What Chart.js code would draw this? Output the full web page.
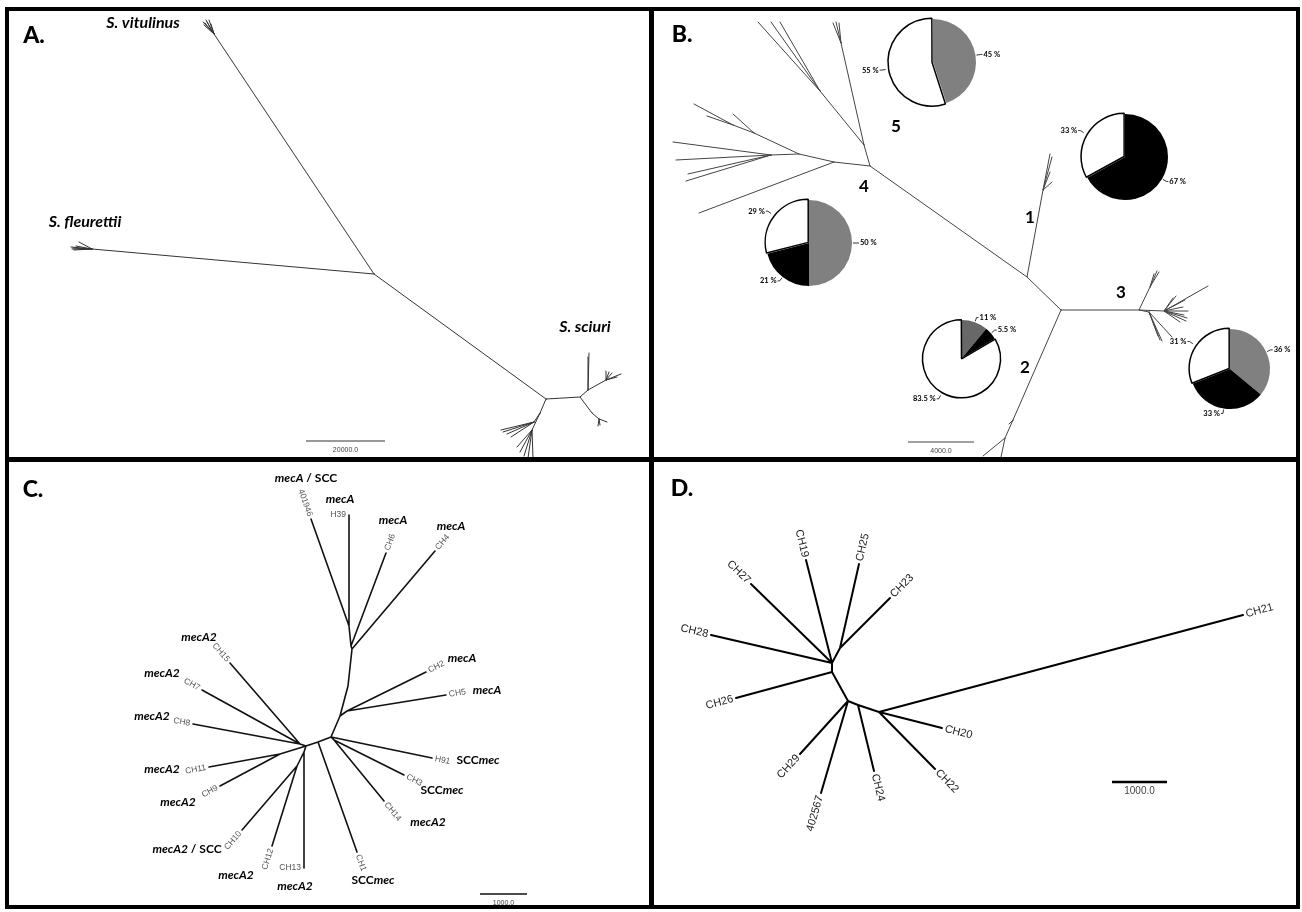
<!DOCTYPE html>
<html lang="en">
<head>
<meta charset="UTF-8">
<title>Unrooted trees</title>
<script src="https://cdn.jsdelivr.net/npm/chart.js"></script>
<style>
  html, body { margin: 0; padding: 0; background: #fff; }
  #figure { position: relative; width: 1302px; height: 912px; overflow: hidden; background: #fff; }
  #figure canvas { position: absolute; }
  .rule { position: absolute; background: #000; z-index: 5; }
</style>
</head>
<body>
<div id="figure">
  <canvas id="panelA"></canvas>
  <canvas id="panelB"></canvas>
  <canvas id="panelC"></canvas>
  <canvas id="panelD"></canvas>
  <canvas id="pie5"></canvas>
  <canvas id="pie1"></canvas>
  <canvas id="pie4"></canvas>
  <canvas id="pie2"></canvas>
  <canvas id="pie3"></canvas>
  <div class="rule" style="left:5px;top:7px;width:1295px;height:4px"></div>
  <div class="rule" style="left:5px;top:905px;width:1295px;height:4px"></div>
  <div class="rule" style="left:5px;top:7px;width:4px;height:902px"></div>
  <div class="rule" style="left:1296px;top:7px;width:4px;height:902px"></div>
  <div class="rule" style="left:649px;top:7px;width:5px;height:902px"></div>
  <div class="rule" style="left:5px;top:457px;width:1295px;height:5px"></div>
</div>
<script>
// tree nodes: [id, x, y, parent, tip label]

// A. species tree
const treeA = [
  ['r', 374, 274, null],
  ['v', 214, 34, 'r'],
  ['v1', 203, 22, 'v'], ['v2', 206, 20, 'v'], ['v3', 209, 20, 'v'], ['v4', 204, 25, 'v'], ['v5', 211, 24, 'v'],
  ['v6', 205, 23, 'v'], ['v7', 207, 22, 'v'],
  ['f', 92, 249, 'r'],
  ['f1', 71, 247, 'f'], ['f2', 72, 249, 'f'], ['f3', 74, 250, 'f'], ['f4', 76, 246, 'f'], ['f5', 79, 242, 'f'],
  ['f6', 73, 248, 'f'],
  ['s', 546, 399, 'r'],
  ['s2', 580, 397, 's'],
  ['s3', 588, 390, 's2'],
  ['s3a', 589, 353, 's3'], ['s3b', 588, 357, 's3'],
  ['s4', 606, 380, 's3'],
  ['s4a', 606, 371, 's4'], ['s4b', 609, 372, 's4'], ['s4c', 612, 373, 's4'], ['s4d', 621, 374, 's4'], ['s4e', 617, 377, 's4'],
  ['s5', 592, 413, 's2'],
  ['s6', 599, 419, 's5'],
  ['s6a', 607, 422, 's6'], ['s6b', 598, 426, 's6'], ['s6c', 600, 425, 's6'],
  ['s7', 540, 413, 's'],
  ['s8', 534, 422, 's7'],
  ['s8a', 501, 430, 's8'], ['s8b', 503, 432, 's8'], ['s8c', 507, 434, 's8'], ['s8d', 511, 437, 's8'],
  ['s9', 532, 430, 's7'],
  ['s9a', 517, 447, 's9'], ['s9b', 520, 452, 's9'], ['s9c', 524, 456, 's9'], ['s9d', 528, 458, 's9'], ['s9e', 533, 458, 's9']
];
const speciesA = ['S. vitulinus', 'S. fleurettii', 'S. sciuri'];

// B. S. sciuri clades
const treeB = [
  ['c', 1061, 310, null],
  ['k3', 1139, 310, 'c'],
  ['k3u', 1150, 287, 'k3'],
  ['k3u1', 1157, 271, 'k3u'], ['k3u2', 1159, 272, 'k3u'], ['k3u3', 1154, 274, 'k3u'],
  ['k3f', 1164, 311, 'k3'],
  ['k3f1', 1208, 286, 'k3f'], ['k3f2', 1185, 300, 'k3f'], ['k3f3', 1183, 307, 'k3f'], ['k3f4', 1184, 315, 'k3f'],
  ['k3f5', 1186, 321, 'k3f'], ['k3f6', 1180, 322, 'k3f'], ['k3f7', 1176, 296, 'k3f'], ['k3f8', 1173, 298, 'k3f'],
  ['k3f9', 1188, 311, 'k3f'], ['k3f10', 1187, 318, 'k3f'],
  ['k3d', 1149, 312, 'k3'],
  ['k3d1', 1162, 341, 'k3d'], ['k3d2', 1160, 340, 'k3d'], ['k3d3', 1172, 337, 'k3d'], ['k3d4', 1158, 336, 'k3d'],
  ['k1', 1027, 277, 'c'],
  ['k1a', 1043, 190, 'k1'],
  ['k1a1', 1050, 154, 'k1a'], ['k1a2', 1052, 157, 'k1a'], ['k1a3', 1050, 172, 'k1a'], ['k1a4', 1052, 182, 'k1a'],
  ['k45', 870, 166, 'k1'],
  ['k5', 864, 145, 'k45'],
  ['k5a', 841, 43, 'k5'],
  ['k5a1', 833, 23, 'k5a'], ['k5a2', 836, 22, 'k5a'], ['k5a3', 839, 23, 'k5a'],
  ['k5b', 820, 91, 'k5'],
  ['k5b1', 758, 22, 'k5b'], ['k5b2', 771, 22, 'k5b'], ['k5b3', 780, 22, 'k5b'],
  ['k4', 834, 162, 'k45'],
  ['k4t', 699, 213, 'k4'],
  ['k4a', 799, 154, 'k4'],
  ['k4b', 771, 155, 'k4a'],
  ['k4b1', 673, 142, 'k4b'], ['k4b2', 676, 160, 'k4b'], ['k4b3', 688, 174, 'k4b'], ['k4b4', 686, 181, 'k4b'],
  ['k4c', 754, 133, 'k4a'],
  ['k4c1', 733, 114, 'k4c'],
  ['k4d', 733, 125, 'k4c'],
  ['k4d1', 694, 104, 'k4d'], ['k4d2', 707, 116, 'k4d'],
  ['k2', 1013, 420, 'c'],
  ['k2a', 1009, 424, 'k2'],
  ['k2b', 1005, 438, 'k2'],
  ['k2c', 1000, 462, 'k2b'],
  ['k2d', 983, 456, 'k2b']
];
const cladeNames = ['1', '2', '3', '4', '5'];
// shares per clade, in the order gray, black, white (%)
const shares1 = [0, 67, 33];
const shares2 = [11, 5.5, 83.5];
const shares3 = [36, 33, 31];
const shares4 = [50, 21, 29];
const shares5 = [45, 0, 55];

// C. mec gene tree
const treeC = [
  ['h', 306, 746, null],
  ['g', 318, 742, 'h'],
  ['CH1', 357, 852, 'g', 'CH1'],
  ['f', 331, 737, 'g'],
  ['H91', 432, 758, 'f', 'H91'],
  ['f2', 334, 740, 'f'],
  ['CH3', 404, 775, 'f2', 'CH3'],
  ['CH14', 384, 801, 'f2', 'CH14'],
  ['d', 340, 716, 'f'],
  ['dd', 347, 711, 'd'],
  ['CH2', 426, 672, 'dd', 'CH2'],
  ['CH5', 446, 695, 'dd', 'CH5'],
  ['b2', 348, 686, 'd'],
  ['b', 352, 649, 'b2'],
  ['CH4', 435, 551, 'b', 'CH4'],
  ['a', 351, 646, 'b'],
  ['CH6', 386, 553, 'a', 'CH6'],
  ['top', 349, 626, 'a'],
  ['401946', 311, 519, 'top', '401946'],
  ['H39', 349, 515, 'top', 'H39'],
  ['l', 300, 744, 'h'],
  ['CH15', 230, 663, 'l', 'CH15'],
  ['CH7', 202, 690, 'l', 'CH7'],
  ['CH8', 193, 724, 'l', 'CH8'],
  ['i', 280, 754, 'h'],
  ['CH11', 209, 767, 'i', 'CH11'],
  ['CH9', 220, 786, 'i', 'CH9'],
  ['k', 304, 752, 'h'],
  ['CH13', 304, 868, 'k', 'CH13'],
  ['j', 297, 766, 'k'],
  ['CH10', 242, 830, 'j', 'CH10'],
  ['CH12', 272, 846, 'j', 'CH12']
];
// genotype of each isolate (*...* is set in italics)
const genotypeC = {
  '401946': '*mecA* / SCC', 'H39': '*mecA*', 'CH6': '*mecA*', 'CH4': '*mecA*',
  'CH2': '*mecA*', 'CH5': '*mecA*', 'H91': 'SCC*mec*', 'CH3': 'SCC*mec*',
  'CH14': '*mecA2*', 'CH1': 'SCC*mec*', 'CH13': '*mecA2*', 'CH12': '*mecA2*',
  'CH10': '*mecA2* / SCC', 'CH9': '*mecA2*', 'CH11': '*mecA2*', 'CH8': '*mecA2*',
  'CH7': '*mecA2*', 'CH15': '*mecA2*'
};

// D. second gene tree
const treeD = [
  ['p2', 832, 663, null],
  ['p1', 840, 648, 'p2'],
  ['CH25', 859, 564, 'p1', 'CH25'],
  ['CH23', 890, 598, 'p1', 'CH23'],
  ['CH27', 751, 584, 'p2', 'CH27'],
  ['CH19', 806, 560, 'p2', 'CH19'],
  ['CH28', 711, 635, 'p2', 'CH28'],
  ['p3', 832, 672, 'p2'],
  ['CH26', 736, 698, 'p3', 'CH26'],
  ['p4', 848, 701, 'p3'],
  ['CH29', 800, 754, 'p4', 'CH29'],
  ['402567', 821, 793, 'p4', '402567'],
  ['p5', 858, 705, 'p4'],
  ['CH24', 874, 771, 'p5', 'CH24'],
  ['p6', 879, 712, 'p5'],
  ['CH21', 1243, 615, 'p6', 'CH21'],
  ['CH20', 942, 728, 'p6', 'CH20'],
  ['CH22', 935, 769, 'p6', 'CH22']
];

// scale bars: [x start, x end, y, label]
const scaleA = [306, 385, 441, '20000.0'];
const scaleB = [908, 974, 442, '4000.0'];
const scaleC = [480, 527, 894, '1000.0'];
const scaleD = [1112, 1167, 782, '1000.0'];

// ---------- layout ----------
const panels = {
  A: { x0: 9, y0: 11, x1: 649, y1: 457 },
  B: { x0: 654, y0: 11, x1: 1296, y1: 457 },
  C: { x0: 9, y0: 462, x1: 649, y1: 905 },
  D: { x0: 654, y0: 462, x1: 1296, y1: 905 }
};
const letterFont = '900 23px Lato';
const speciesFont = 'bold 16px Lato';
const smallFont = '7px "Liberation Sans"';
const genoFont = 'bold 12px Lato';

const genotypeAt = {
  '401946': [306, 478], 'H39': [340, 499], 'CH6': [393, 520], 'CH4': [451, 526],
  'CH15': [199, 637], 'CH2': [462, 658], 'CH7': [162, 673], 'CH5': [487, 690],
  'CH8': [152, 716], 'H91': [478, 760], 'CH11': [162, 769], 'CH3': [442, 790],
  'CH9': [178, 802], 'CH14': [428, 822], 'CH10': [187, 849], 'CH12': [236, 875],
  'CH1': [373, 880], 'CH13': [295, 886]
};
const cladeAt = { '1': [1030, 218], '2': [1025, 368], '3': [1121, 293], '4': [864, 187], '5': [896, 127] };

function segments(nodes) {
  const byId = Object.fromEntries(nodes.map(n => [n[0], n]));
  const pts = [];
  nodes.forEach(n => {
    if (n[3] == null) return;
    const p = byId[n[3]];
    pts.push({ x: p[1], y: p[2] }, { x: n[1], y: n[2] }, { x: n[1], y: null });
  });
  return pts;
}

function drawRich(ctx, text, x, y, font, color, align) {
  const parts = text.split('*');
  ctx.fillStyle = color;
  ctx.textBaseline = 'middle';
  ctx.textAlign = 'left';
  const widths = parts.map((s, i) => {
    ctx.font = (i % 2 ? 'italic ' : '') + font;
    return ctx.measureText(s).width;
  });
  const total = widths.reduce((a, b) => a + b, 0);
  let cx = align === 'left' ? x : align === 'right' ? x - total : x - total / 2;
  parts.forEach((s, i) => {
    ctx.font = (i % 2 ? 'italic ' : '') + font;
    ctx.fillText(s, cx, y);
    cx += widths[i];
  });
}

function treeText(nodes, opts) {
  const byId = Object.fromEntries(nodes.map(n => [n[0], n]));
  return {
    id: 'treeText',
    afterDatasetsDraw(chart) {
      const { ctx } = chart;
      const sx = v => chart.scales.x.getPixelForValue(v);
      const sy = v => chart.scales.y.getPixelForValue(v);
      ctx.save();
      if (opts.leafFont) {
        ctx.font = opts.leafFont;
        ctx.fillStyle = opts.leafColor;
        ctx.textBaseline = 'middle';
        nodes.forEach(n => {
          if (!n[4]) return;
          const p = byId[n[3]];
          const tx = sx(n[1]), ty = sy(n[2]);
          const dx = tx - sx(p[1]), dy = ty - sy(p[2]);
          ctx.save();
          ctx.translate(tx, ty);
          if (Math.abs(dx) < 0.5) {
            ctx.textAlign = 'right';
            ctx.fillText(n[4], -opts.gap, 0);
          } else if (dx < 0) {
            ctx.rotate(Math.atan2(dy, dx) + Math.PI);
            ctx.textAlign = 'right';
            ctx.fillText(n[4], -opts.gap, 0);
          } else {
            ctx.rotate(Math.atan2(dy, dx));
            ctx.textAlign = 'left';
            ctx.fillText(n[4], opts.gap, 0);
          }
          ctx.restore();
        });
      }
      opts.texts.forEach(t => drawRich(ctx, t[0], sx(t[1]), sy(t[2]), t[3], t[4] || '#000', t[5] || 'center'));
      ctx.restore();
    }
  };
}

function treeChart(id, rect, nodes, scale, lineStyle, opts) {
  const canvas = document.getElementById(id);
  canvas.width = rect.x1 - rect.x0;
  canvas.height = rect.y1 - rect.y0;
  canvas.style.left = rect.x0 + 'px';
  canvas.style.top = rect.y0 + 'px';
  opts.texts.push([scale[3], (scale[0] + scale[1]) / 2, scale[2] + 9, opts.scaleFont || smallFont, '#444']);
  return new Chart(canvas, {
    type: 'scatter',
    data: {
      datasets: [
        {
          data: segments(nodes), showLine: true, spanGaps: false,
          borderColor: lineStyle.color, borderWidth: lineStyle.width,
          pointRadius: 0, borderCapStyle: 'round'
        },
        {
          data: [{ x: scale[0], y: scale[2] }, { x: scale[1], y: scale[2] }], showLine: true,
          borderColor: lineStyle.barColor || lineStyle.color, borderWidth: lineStyle.barWidth || lineStyle.width,
          pointRadius: 0
        }
      ]
    },
    options: {
      responsive: false, animation: false, events: [],
      layout: { padding: 0 },
      plugins: { legend: { display: false }, tooltip: { enabled: false } },
      scales: {
        x: { type: 'linear', min: rect.x0, max: rect.x1, display: false },
        y: { type: 'linear', min: rect.y0, max: rect.y1, reverse: true, display: false }
      }
    },
    plugins: [treeText(nodes, opts)]
  });
}

// A
treeChart('panelA', panels.A, treeA, scaleA, { color: '#333', width: 1 }, {
  texts: [
    ['A.', 34, 36, letterFont],
    ['*' + speciesA[0] + '*', 143, 23, speciesFont],
    ['*' + speciesA[1] + '*', 85, 222, speciesFont],
    ['*' + speciesA[2] + '*', 585, 327, speciesFont]
  ]
});

// B
treeChart('panelB', panels.B, treeB, scaleB, { color: '#444', width: 1 }, {
  texts: [['B.', 682, 35, letterFont]].concat(
    cladeNames.map(c => [c, cladeAt[c][0], cladeAt[c][1], 'bold 17px Lato']))
});

// C
treeChart('panelC', panels.C, treeC, scaleC, { color: '#111', width: 1.6, barWidth: 1.5 }, {
  leafFont: '8.5px "Liberation Sans"', leafColor: '#555', gap: 3,
  texts: [['C.', 33, 490, letterFont]].concat(
    Object.keys(genotypeC).map(k => [genotypeC[k], genotypeAt[k][0], genotypeAt[k][1], genoFont]))
});

// D
treeChart('panelD', panels.D, treeD, scaleD, { color: '#000', width: 2, barWidth: 2.5 }, {
  leafFont: '11px "Liberation Sans"', leafColor: '#222', gap: 3,
  scaleFont: '10px "Liberation Sans"',
  texts: [['D.', 682, 489, letterFont]]
});

// clade composition pies on panel B
const sliceLabels = {
  id: 'sliceLabels',
  afterDatasetsDraw(chart) {
    const { ctx } = chart;
    const meta = chart.getDatasetMeta(0);
    const values = chart.data.datasets[0].data;
    const offsets = chart.data.datasets[0].offset;
    ctx.save();
    ctx.font = 'bold 7.5px Lato';
    ctx.fillStyle = '#000';
    ctx.strokeStyle = '#000';
    ctx.lineWidth = 0.8;
    ctx.textBaseline = 'middle';
    meta.data.forEach((arc, i) => {
      if (!values[i]) return;
      const { x, y, startAngle, endAngle, outerRadius } =
        arc.getProps(['x', 'y', 'startAngle', 'endAngle', 'outerRadius'], true);
      const mid = (startAngle + endAngle) / 2;
      const c = Math.cos(mid), s = Math.sin(mid);
      const r = outerRadius + offsets[i];
      const x2 = x + c * (r + 5), y2 = y + s * (r + 5);
      const side = c >= 0 ? 1 : -1;
      ctx.beginPath();
      ctx.moveTo(x + c * (r + 1), y + s * (r + 1));
      ctx.lineTo(x2, y2);
      ctx.lineTo(x2 + 2 * side, y2);
      ctx.stroke();
      ctx.textAlign = side > 0 ? 'left' : 'right';
      ctx.fillText(values[i] + ' %', x2 + 3 * side, y2);
    });
    ctx.restore();
  }
};

function cladePie(id, shares, cx, cy, radius, gray) {
  const w = 170, h = 130;
  const canvas = document.getElementById(id);
  canvas.width = w;
  canvas.height = h;
  canvas.style.left = (cx - w / 2) + 'px';
  canvas.style.top = (cy - h / 2) + 'px';
  canvas.style.zIndex = 2;
  return new Chart(canvas, {
    type: 'pie',
    data: {
      labels: ['gray', 'black', 'white'],
      datasets: [{
        data: shares,
        backgroundColor: [gray, '#000', '#fff'],
        borderColor: [gray, '#000', '#000'],
        borderWidth: [0, 0, 1.5],
        offset: [0, 0, 4],
        radius: radius
      }]
    },
    options: {
      responsive: false, animation: false, events: [],
      layout: { padding: 0 },
      plugins: { legend: { display: false }, tooltip: { enabled: false } }
    },
    plugins: [sliceLabels]
  });
}

cladePie('pie5', shares5, 933, 62, 43, '#808080');
cladePie('pie1', shares1, 1125, 157, 43, '#808080');
cladePie('pie4', shares4, 809, 243, 43, '#808080');
cladePie('pie2', shares2, 962, 358, 38, '#686868');
cladePie('pie3', shares3, 1230, 369, 40, '#808080');
</script>
</body>
</html>
